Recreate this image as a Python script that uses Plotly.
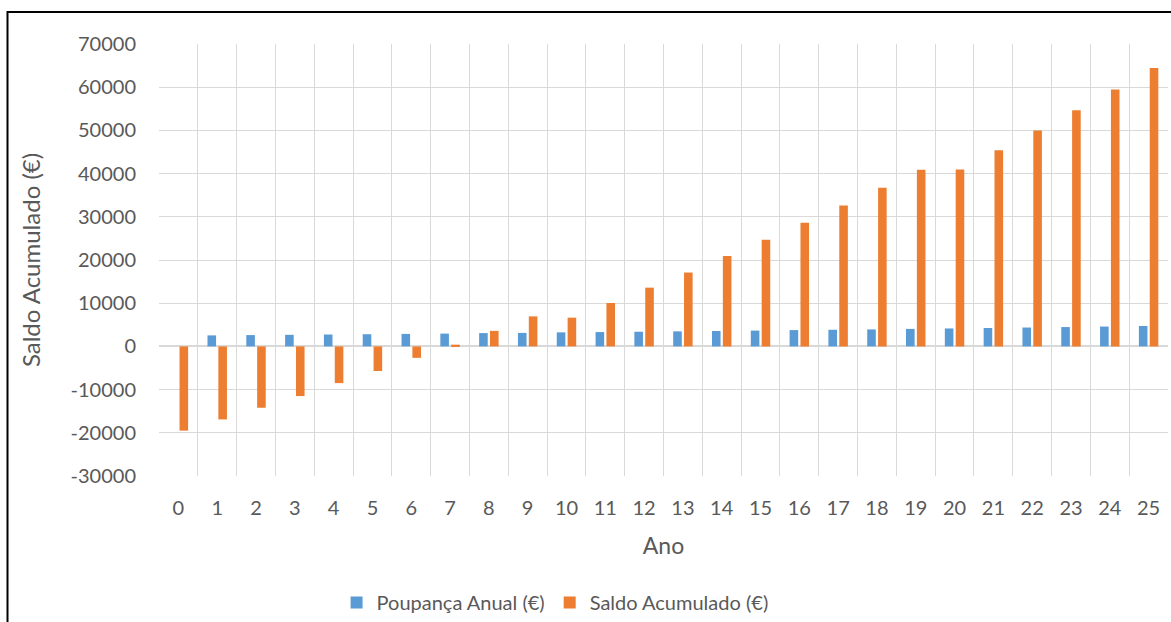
import plotly.graph_objects as go

anos = [str(i) for i in range(26)]
poupanca_anual = [0, 2550, 2620, 2680, 2750, 2820, 2890, 2960, 3080, 3120,
                  3250, 3320, 3400, 3480, 3570, 3660, 3780, 3850, 3930, 4050,
                  4150, 4260, 4370, 4480, 4600, 4720]
saldo_acumulado = [-19500, -16900, -14200, -11500, -8500, -5700, -2650, 400, 3600, 6950,
                   6650, 10050, 13600, 17100, 20900, 24700, 28600, 32600, 36750, 40900,
                   40950, 45400, 49950, 54650, 59450, 64450]
y_ticks = [-30000, -20000, -10000, 0, 10000, 20000, 30000, 40000, 50000, 60000, 70000]

FONT = "Lato"
TXT = "#595959"
GRID = "#D9D9D9"

fig = go.Figure()
fig.add_trace(go.Bar(x=anos, y=poupanca_anual, name="Poupança Anual (€)",
                     marker=dict(color="#5B9BD5", line=dict(width=0))))
fig.add_trace(go.Bar(x=anos, y=saldo_acumulado, name="Saldo Acumulado (€)",
                     marker=dict(color="#ED7D31", line=dict(width=0))))

fig.update_layout(
    width=1171, height=622,
    margin=dict(l=159, r=3, t=44, b=146, autoexpand=False),
    paper_bgcolor="white", plot_bgcolor="white",
    barmode="group", bargap=0.44, bargroupgap=0.21,
    font=dict(family=FONT, color=TXT, size=20),
    showlegend=True,
    legend=dict(orientation="h", x=0.176, xanchor="left", y=-0.293, yanchor="middle",
                font=dict(family=FONT, size=20, color=TXT), itemwidth=30,
                bgcolor="rgba(0,0,0,0)"),
    xaxis=dict(type="category", tickson="boundaries", showgrid=True, gridcolor=GRID,
               gridwidth=1.3, showline=False, ticks="", ticklabelstandoff=18,
               tickfont=dict(size=20, family=FONT, color=TXT),
               title=dict(text="Ano", font=dict(size=23, family=FONT, color=TXT), standoff=19)),
    yaxis=dict(range=[-30000, 70000], tickvals=y_ticks, ticktext=[str(v) for v in y_ticks],
               showgrid=True, gridcolor=GRID, gridwidth=1.3,
               zeroline=True, zerolinecolor=GRID, zerolinewidth=1.5,
               showline=False, ticks="", ticklabelstandoff=22,
               tickfont=dict(size=20, family=FONT, color=TXT),
               title=dict(text="Saldo Acumulado (€)", font=dict(size=24, family=FONT, color=TXT),
                          standoff=23)),
)

# outer chart border (top and left visible)
fig.add_shape(type="rect", xref="paper", yref="paper",
              x0=(7.5 - 159) / 1009, x1=(1175 - 159) / 1009,
              y0=(475.5 - 640) / 431.8, y1=(475.5 - 11.8) / 431.8,
              line=dict(color="black", width=2), fillcolor="rgba(0,0,0,0)", layer="above")

fig.write_html("out.html")
